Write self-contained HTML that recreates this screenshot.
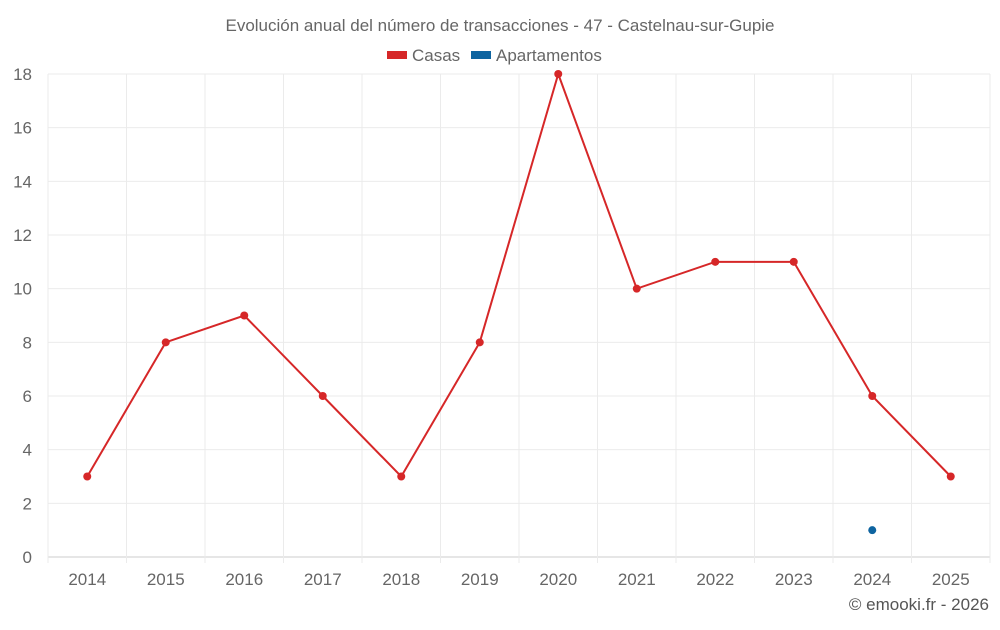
<!DOCTYPE html>
<html><head><meta charset="utf-8"><style>
body{margin:0;background:#fff;font-family:"Liberation Sans",sans-serif;}
svg text{font-family:"Liberation Sans",sans-serif;}
</style></head><body>
<svg id="chart" width="1000" height="625" xmlns="http://www.w3.org/2000/svg">
<text x="500" y="31" text-anchor="middle" font-size="17" fill="#666">Evolución anual del número de transacciones - 47 - Castelnau-sur-Gupie</text>
<g>
<g><rect x="387" y="51" width="20" height="8" fill="#d62728"/><text x="412" y="61" font-size="17" fill="#666">Casas</text></g>
<g><rect x="471" y="51" width="20" height="8" fill="#0e64a0"/><text x="496" y="61" font-size="17" fill="#666">Apartamentos</text></g>
</g>
<g id="grid"></g><g id="axes"></g><g id="series"></g>
<text x="989" y="610" text-anchor="end" font-size="17" fill="#555">© emooki.fr - 2026</text>
</svg>
<script>
const categories=["2014","2015","2016","2017","2018","2019","2020","2021","2022","2023","2024","2025"];
const casas=[3,8,9,6,3,8,18,10,11,11,6,3];
const apartamentos=[null,null,null,null,null,null,null,null,null,null,1,null];
const yTicks=[0,2,4,6,8,10,12,14,16,18];
const L=48,R=990,T=74,B=557,yMax=18;
const bw=(R-L)/categories.length;
const x=i=>L+bw*(i+0.5);
const y=v=>B-(v/yMax)*(B-T);
const NS="http://www.w3.org/2000/svg";
function mk(tag,attrs,parent){const e=document.createElementNS(NS,tag);for(const k in attrs)e.setAttribute(k,attrs[k]);document.getElementById(parent).appendChild(e);return e;}
yTicks.forEach(t=>{
 const g=mk('line',{x1:L,x2:R,y1:y(t),y2:y(t),stroke:t===0?'#ccc':'#ebebeb','stroke-width':1},'grid');
 
 
 const lb=mk('text',{x:32,y:y(t)+6,'text-anchor':'end','font-size':17,fill:'#666'},'axes');
 lb.textContent=t;
 
 
});
for(let i=0;i<=categories.length;i++){
 const xx=L+bw*i;
 const g=mk('line',{x1:xx,x2:xx,y1:T,y2:B+6,stroke:'#ebebeb','stroke-width':1},'grid');
 
 
}
categories.forEach((c,i)=>{
 const lb=mk('text',{x:x(i),y:585,'text-anchor':'middle','font-size':17,fill:'#666'},'axes');
 lb.textContent=c;
 
 
});
function drawSeries(vals,color,name){
 let d='';vals.forEach((v,i)=>{if(v!==null)d+=(d?'L':'M')+x(i)+' '+y(v);});
 const p=mk('path',{d:d,fill:'none',stroke:color,'stroke-width':2},'series');
 
 
 vals.forEach((v,i)=>{if(v===null)return;
  const c=mk('circle',{cx:x(i),cy:y(v),r:4,fill:color},'series');
  
  
 });
}
drawSeries(casas,'#d62728','casas');
drawSeries(apartamentos,'#0e64a0','apartamentos');
</script>
</body></html>
